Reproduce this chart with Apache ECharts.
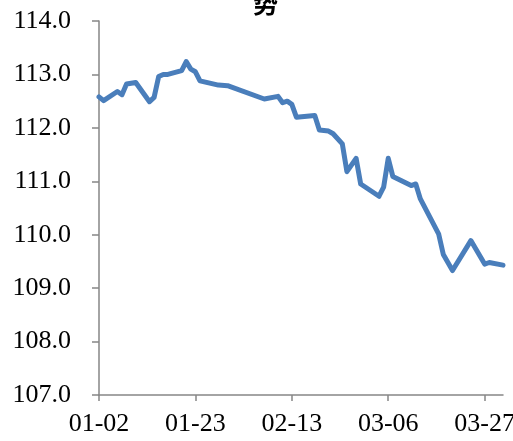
<!DOCTYPE html>
<html>
<head>
<meta charset="utf-8">
<script src="https://cdn.jsdelivr.net/npm/echarts@6/dist/echarts.min.js"></script>
<style>
html,body{margin:0;padding:0;background:#fff;}
#chart{width:513px;height:441px;}
</style>
</head>
<body>
<div id="chart"></div>
<script>
// Data (MM-DD, non-leap year)
var dates = ['01-02','01-03','01-06','01-07','01-08','01-10','01-13','01-14','01-15','01-16','01-17','01-20','01-21','01-22','01-23','01-24','01-28','01-30','02-07','02-10','02-11','02-12','02-13','02-14','02-18','02-19','02-21','02-22','02-24','02-25','02-27','02-28','03-04','03-05','03-06','03-07','03-11','03-12','03-13','03-17','03-18','03-20','03-24','03-27','03-28','03-31'];
var values = [112.58,112.51,112.68,112.62,112.82,112.85,112.49,112.57,112.96,113.00,113.00,113.07,113.24,113.10,113.05,112.88,112.80,112.79,112.54,112.59,112.47,112.50,112.44,112.20,112.23,111.96,111.94,111.89,111.70,111.18,111.43,110.95,110.72,110.89,111.43,111.09,110.92,110.95,110.67,110.01,109.63,109.33,109.89,109.45,109.48,109.43];
var tickLabels = ['01-02','01-23','02-13','03-06','03-27'];
var startDate = '01-02';
var endDate = '03-31';
var titleText = '势';

var monthStart = [0,31,59,90,120,151,181,212,243,273,304,334];
function dayOf(s){ var p = s.split('-'); return monthStart[+p[0]-1] + (+p[1]) - 1; }
var d0 = dayOf(startDate);
function offset(s){ return dayOf(s) - d0; }
function labelOf(v){
  var doy = v + d0, m = 11;
  while (monthStart[m] > doy) m--;
  var d = doy - monthStart[m] + 1;
  return (m+1 < 10 ? '0' : '') + (m+1) + '-' + (d < 10 ? '0' : '') + d;
}
var seriesData = dates.map(function(d,i){ return [offset(d), values[i]]; });
var tickVals = tickLabels.map(offset);

var font = 'Liberation Serif, serif';
var axisColor = '#868686';
var chart = echarts.init(document.getElementById('chart'), null, {renderer:'canvas'});
chart.setOption({
  animation: false,
  backgroundColor: '#fff',
  title: {
    text: titleText, left: 248, top: -14,
    textStyle: {fontFamily: 'Noto Sans CJK SC', fontSize: 25, fontWeight: 'bold', color: '#000'}
  },
  grid: {left: 99, right: 10, top: 21, bottom: 46, containLabel: false, outerBoundsMode: 'none'},
  xAxis: {
    type: 'value', min: 0, max: offset(endDate), interval: 21,
    splitLine: {show: false},
    axisLine: {show: true, onZero: false, lineStyle: {color: axisColor, width: 1.5}},
    axisTick: {show: true, length: 6, customValues: tickVals, lineStyle: {color: axisColor, width: 1.5}},
    axisLabel: {
      customValues: tickVals, margin: 16,
      fontFamily: font, fontSize: 26, color: '#000',
      formatter: function(v){ return labelOf(v); }
    }
  },
  yAxis: {
    type: 'value', min: 107, max: 114, interval: 1,
    splitLine: {show: false},
    axisLine: {show: true, lineStyle: {color: axisColor, width: 1.5}},
    axisTick: {show: true, length: 7, lineStyle: {color: axisColor, width: 1.5}},
    axisLabel: {
      margin: 28, fontFamily: font, fontSize: 26, color: '#000',
      formatter: function(v){ return v.toFixed(1); }
    }
  },
  series: [{
    type: 'line', data: seriesData, symbol: 'none',
    lineStyle: {color: '#4a7ebb', width: 5, join: 'round', cap: 'round'}
  }]
});
</script>
</body>
</html>
